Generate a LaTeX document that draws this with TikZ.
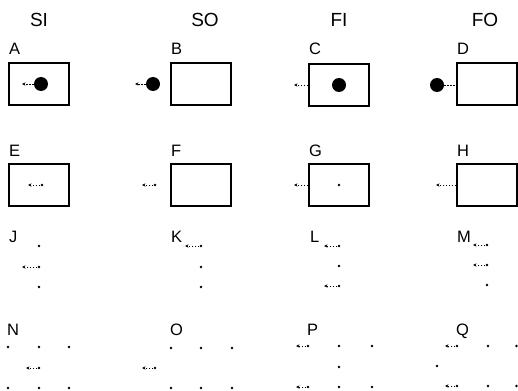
\documentclass[tikz,border=0pt]{standalone}
\usepackage{fontspec}
\setmainfont{Liberation Sans}
\usetikzlibrary{arrows.meta}
\begin{document}
\begin{tikzpicture}[x=1pt,y=-1pt,
  box/.style={draw,line width=1.4pt,minimum width=60pt,minimum height=42pt,inner sep=0pt},
  bigdot/.style={circle,fill,inner sep=0pt,minimum size=14pt},
  pt/.style={circle,fill,inner sep=0pt,minimum size=2.8pt},
  arr/.style={line width=0.7pt,dash pattern=on 1.5pt off 1.5pt,-{Stealth[length=3.5pt,width=3.2pt]}},
  link/.style={line width=0.7pt,dash pattern=on 1.5pt off 1.5pt},
  head/.style={anchor=base,font=\fontsize{19}{19}\selectfont,inner sep=0pt},
  lab/.style={anchor=base west,font=\fontsize{16.5}{16.5}\selectfont,inner sep=0pt}]
\useasboundingbox (0,0) rectangle (518,390);
% headers
\node[head] (hSI) at (39,27) {SI};
\node[head] (hSO) at (205,27) {SO};
\node[head] (hFI) at (339,27) {FI};
\node[head] (hFO) at (485,27) {FO};
% labels
\node[lab] (lA) at (9,55) {A};
\node[lab] (lB) at (171,55) {B};
\node[lab] (lC) at (309,55) {C};
\node[lab] (lD) at (457,55) {D};
\node[lab] (lE) at (9,157) {E};
\node[lab] (lF) at (171,157) {F};
\node[lab] (lG) at (309,157) {G};
\node[lab] (lH) at (457,157) {H};
\node[lab] (lJ) at (9,242) {J};
\node[lab] (lK) at (171,242) {K};
\node[lab] (lL) at (310,242) {L};
\node[lab] (lM) at (457,242) {M};
\node[lab] (lN) at (7,335) {N};
\node[lab] (lO) at (170,335) {O};
\node[lab] (lP) at (307,335) {P};
\node[lab] (lQ) at (456,335) {Q};
% row 1 boxes
\node[box] (bA) at (39,84) {};
\node[box] (bB) at (201,84) {};
\node[box] (bC) at (339,85) {};
\node[box] (bD) at (487,84) {};
\node[bigdot] (dA) at (41,84) {};
\node[bigdot] (dB) at (153,84) {};
\node[bigdot] (dC) at (339,85) {};
\node[bigdot] (dD) at (437,85) {};
\coordinate (tA) at (22,84);
\coordinate (tB) at (135,84);
\coordinate (tC) at (294,85);
\draw[arr] (dA.west) -- (tA);
\draw[arr] (dB.west) -- (tB);
\draw[arr] (bC.west |- tC) -- (tC);
\draw[link] (dD.east) -- (bD.west |- dD);
% row 2 boxes
\node[box] (bE) at (39,185) {};
\node[box] (bF) at (201,185) {};
\node[box] (bG) at (339,185) {};
\node[box] (bH) at (487,185) {};
\node[pt] (pE) at (42,185) {};
\coordinate (tE) at (28,185);
\draw[arr] (pE) -- (tE);
\node[pt] (pF) at (155,185) {};
\coordinate (tF) at (142,185);
\draw[arr] (pF) -- (tF);
\node[pt] (pG) at (339,185) {};
\coordinate (tG) at (294,185);
\draw[arr] (bG.west |- tG) -- (tG);
\coordinate (tH) at (436,185);
\draw[arr] (bH.west |- tH) -- (tH);
% row J
\node[pt] (j1) at (39,246) {};
\node[pt] (j2) at (39,267) {};
\node[pt] (j3) at (39,287) {};
\coordinate (tJ) at (22,267);
\draw[arr] (j2) -- (tJ);
% row K
\node[pt] (k1) at (201,246) {};
\node[pt] (k2) at (201,267) {};
\node[pt] (k3) at (201,287) {};
\coordinate (tK) at (185,246);
\draw[arr] (k1) -- (tK);
% row L
\node[pt] (l1) at (339,246) {};
\node[pt] (l2) at (339,266) {};
\node[pt] (l3) at (339,286) {};
\coordinate (tL1) at (324,246);
\coordinate (tL3) at (324,286);
\draw[arr] (l1) -- (tL1);
\draw[arr] (l3) -- (tL3);
% row M
\node[pt] (m1) at (487,245) {};
\node[pt] (m2) at (487,265) {};
\node[pt] (m3) at (487,285) {};
\coordinate (tM1) at (473,245);
\coordinate (tM2) at (473,265);
\draw[arr] (m1) -- (tM1);
\draw[arr] (m2) -- (tM2);
% row N
\node[pt] (n11) at (8,347) {};
\node[pt] (n12) at (39,347) {};
\node[pt] (n13) at (69,347) {};
\node[pt] (n22) at (39,368) {};
\node[pt] (n31) at (8,388) {};
\node[pt] (n32) at (39,388) {};
\node[pt] (n33) at (69,388) {};
\coordinate (tN) at (26,368);
\draw[arr] (n22) -- (tN);
% row O
\node[pt] (o11) at (171,348) {};
\node[pt] (o12) at (201,348) {};
\node[pt] (o13) at (232,348) {};
\node[pt] (o20) at (155,368) {};
\node[pt] (o31) at (171,388) {};
\node[pt] (o32) at (201,388) {};
\node[pt] (o33) at (232,388) {};
\coordinate (tO) at (142,368);
\draw[arr] (o20) -- (tO);
% row P
\node[pt] (p11) at (308,346) {};
\node[pt] (p12) at (339,346) {};
\node[pt] (p13) at (372,346) {};
\node[pt] (p22) at (339,367) {};
\node[pt] (p31) at (308,387) {};
\node[pt] (p32) at (339,387) {};
\node[pt] (p33) at (372,387) {};
\coordinate (tP1) at (296,346);
\coordinate (tP3) at (296,387);
\draw[arr] (p11) -- (tP1);
\draw[arr] (p31) -- (tP3);
% row Q
\node[pt] (q11) at (457,346) {};
\node[pt] (q12) at (488,346) {};
\node[pt] (q13) at (516.5,346) {};
\node[pt] (q20) at (437,366) {};
\node[pt] (q31) at (457,386) {};
\node[pt] (q32) at (488,386) {};
\node[pt] (q33) at (516.5,386) {};
\coordinate (tQ1) at (445,346);
\coordinate (tQ3) at (445,386);
\draw[arr] (q11) -- (tQ1);
\draw[arr] (q31) -- (tQ3);
\end{tikzpicture}
\end{document}
